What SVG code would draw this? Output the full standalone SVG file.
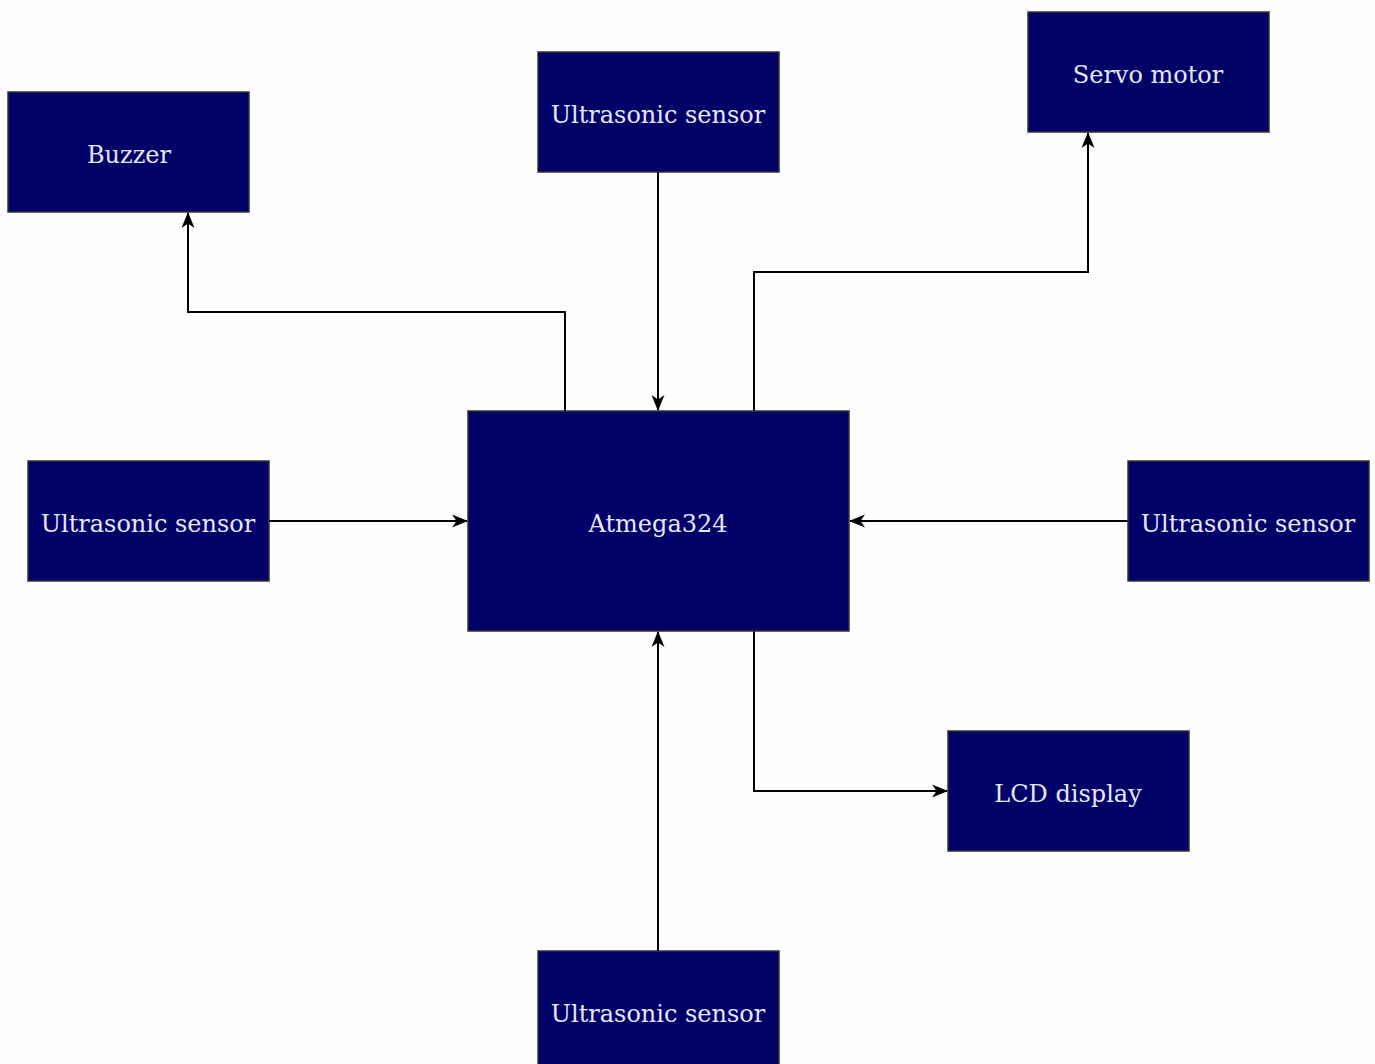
<svg xmlns="http://www.w3.org/2000/svg" width="1375" height="1064" viewBox="0 0 1375 1064">
<defs>
<style>
.box{fill:#000066;stroke:#333333;stroke-width:1.5}
.lbl{fill:#e6e6ff;font-family:"DejaVu Serif",serif;font-size:24px;text-anchor:middle;dominant-baseline:central}
.edge{fill:none;stroke:#000000;stroke-width:2}
</style>
<marker id="arr" viewBox="0 0 16 16" refX="15" refY="8" markerWidth="16" markerHeight="16" markerUnits="userSpaceOnUse" orient="auto">
<path d="M0,1.5 L16,8 L0,14.5 L4.5,8 Z" fill="#000000"/>
</marker>
</defs>
<rect width="1375" height="1064" fill="#fefefe"/>
<g id="connectors">
<path class="edge" d="M565,411 V312 H188 V213" marker-end="url(#arr)"/>
<path class="edge" d="M658,172 V410" marker-end="url(#arr)"/>
<path class="edge" d="M754,411 V272 H1088 V133" marker-end="url(#arr)"/>
<path class="edge" d="M269,521 H467" marker-end="url(#arr)"/>
<path class="edge" d="M1128,521 H850" marker-end="url(#arr)"/>
<path class="edge" d="M658,951 V632" marker-end="url(#arr)"/>
<path class="edge" d="M754,631 V791 H947" marker-end="url(#arr)"/>
</g>
<g id="buzzer"><rect class="box" x="8" y="92" width="241" height="120"/><text class="lbl" x="129" y="155">Buzzer</text></g>
<g id="us-top"><rect class="box" x="538" y="52" width="241" height="120"/><text class="lbl" x="658" y="115">Ultrasonic sensor</text></g>
<g id="servo"><rect class="box" x="1028" y="12" width="241" height="120"/><text class="lbl" x="1148" y="75">Servo motor</text></g>
<g id="atmega"><rect class="box" x="468" y="411" width="381" height="220"/><text class="lbl" x="658" y="524">Atmega324</text></g>
<g id="us-left"><rect class="box" x="28" y="461" width="241" height="120"/><text class="lbl" x="148" y="524">Ultrasonic sensor</text></g>
<g id="us-right"><rect class="box" x="1128" y="461" width="241" height="120"/><text class="lbl" x="1248" y="524">Ultrasonic sensor</text></g>
<g id="lcd"><rect class="box" x="948" y="731" width="241" height="120"/><text class="lbl" x="1068" y="794">LCD display</text></g>
<g id="us-bottom"><rect class="box" x="538" y="951" width="241" height="120"/><text class="lbl" x="658" y="1014">Ultrasonic sensor</text></g>
</svg>
